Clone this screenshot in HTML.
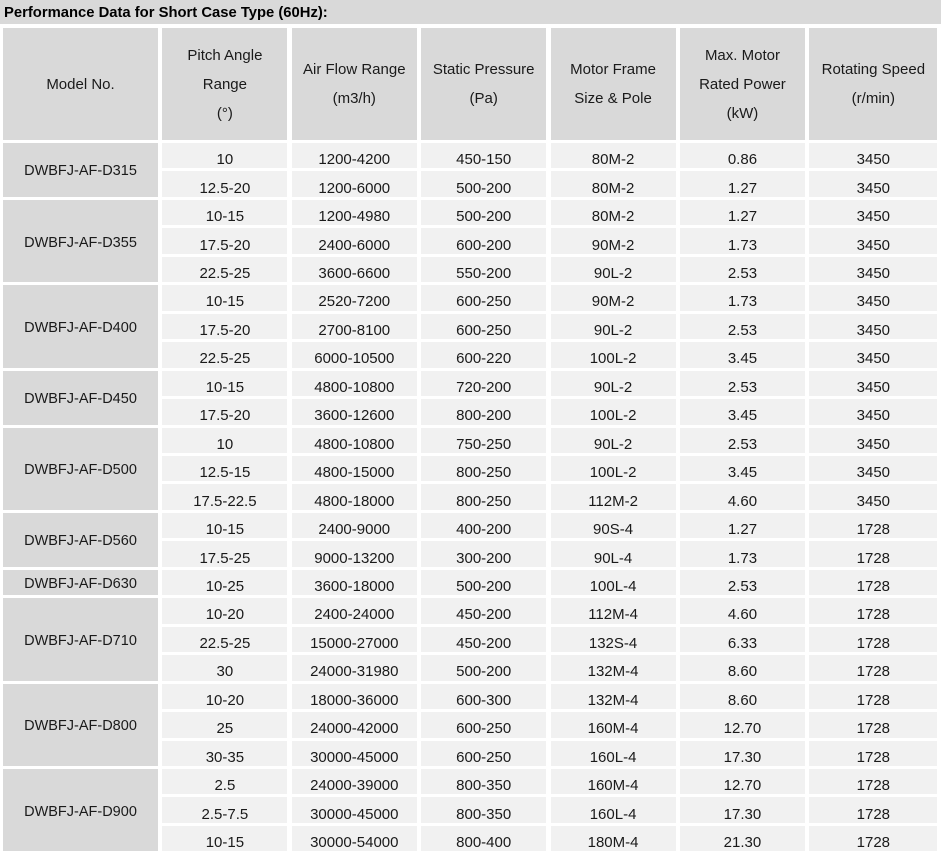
<!DOCTYPE html>
<html><head><meta charset="utf-8">
<style>
body{margin:0;background:#fff;width:941px;height:850px;overflow:hidden;font-family:"Liberation Sans",sans-serif;color:#1a1a1a;}
.title{position:absolute;left:0;top:0;width:941px;height:24px;background:#d9d9d9;font-weight:bold;font-size:14.8px;line-height:26px;padding-left:4px;box-sizing:border-box;color:#000;}
.g{position:absolute;left:3px;top:28px;display:grid;grid-template-columns:155px 125px 125px 125px 125px 125px 128px;column-gap:4.4px;grid-template-rows:112px repeat(25,25.46px);row-gap:3px;font-size:15px;}
.g div{display:flex;align-items:center;justify-content:center;text-align:center;background:#f1f1f1;padding-top:8px;box-sizing:border-box;}
.g .h{background:#d9d9d9;line-height:29px;padding-top:0;}
.g .m{background:#d9d9d9;font-size:14.5px;padding-top:3px;}
</style></head><body>
<div class="title">Performance Data for Short Case Type (60Hz):</div>
<div class="g">
<div class="h">Model No.</div>
<div class="h">Pitch Angle<br>Range<br>(°)</div>
<div class="h">Air Flow Range<br>(m3/h)</div>
<div class="h">Static Pressure<br>(Pa)</div>
<div class="h">Motor Frame<br>Size &amp; Pole</div>
<div class="h">Max. Motor<br>Rated Power<br>(kW)</div>
<div class="h">Rotating Speed<br>(r/min)</div>

<div class="m" style="grid-row:span 2">DWBFJ-AF-D315</div>
<div>10</div><div>1200-4200</div><div>450-150</div><div>80M-2</div><div>0.86</div><div>3450</div>
<div>12.5-20</div><div>1200-6000</div><div>500-200</div><div>80M-2</div><div>1.27</div><div>3450</div>

<div class="m" style="grid-row:span 3">DWBFJ-AF-D355</div>
<div>10-15</div><div>1200-4980</div><div>500-200</div><div>80M-2</div><div>1.27</div><div>3450</div>
<div>17.5-20</div><div>2400-6000</div><div>600-200</div><div>90M-2</div><div>1.73</div><div>3450</div>
<div>22.5-25</div><div>3600-6600</div><div>550-200</div><div>90L-2</div><div>2.53</div><div>3450</div>

<div class="m" style="grid-row:span 3">DWBFJ-AF-D400</div>
<div>10-15</div><div>2520-7200</div><div>600-250</div><div>90M-2</div><div>1.73</div><div>3450</div>
<div>17.5-20</div><div>2700-8100</div><div>600-250</div><div>90L-2</div><div>2.53</div><div>3450</div>
<div>22.5-25</div><div>6000-10500</div><div>600-220</div><div>100L-2</div><div>3.45</div><div>3450</div>

<div class="m" style="grid-row:span 2">DWBFJ-AF-D450</div>
<div>10-15</div><div>4800-10800</div><div>720-200</div><div>90L-2</div><div>2.53</div><div>3450</div>
<div>17.5-20</div><div>3600-12600</div><div>800-200</div><div>100L-2</div><div>3.45</div><div>3450</div>

<div class="m" style="grid-row:span 3">DWBFJ-AF-D500</div>
<div>10</div><div>4800-10800</div><div>750-250</div><div>90L-2</div><div>2.53</div><div>3450</div>
<div>12.5-15</div><div>4800-15000</div><div>800-250</div><div>100L-2</div><div>3.45</div><div>3450</div>
<div>17.5-22.5</div><div>4800-18000</div><div>800-250</div><div>112M-2</div><div>4.60</div><div>3450</div>

<div class="m" style="grid-row:span 2">DWBFJ-AF-D560</div>
<div>10-15</div><div>2400-9000</div><div>400-200</div><div>90S-4</div><div>1.27</div><div>1728</div>
<div>17.5-25</div><div>9000-13200</div><div>300-200</div><div>90L-4</div><div>1.73</div><div>1728</div>

<div class="m">DWBFJ-AF-D630</div>
<div>10-25</div><div>3600-18000</div><div>500-200</div><div>100L-4</div><div>2.53</div><div>1728</div>

<div class="m" style="grid-row:span 3">DWBFJ-AF-D710</div>
<div>10-20</div><div>2400-24000</div><div>450-200</div><div>112M-4</div><div>4.60</div><div>1728</div>
<div>22.5-25</div><div>15000-27000</div><div>450-200</div><div>132S-4</div><div>6.33</div><div>1728</div>
<div>30</div><div>24000-31980</div><div>500-200</div><div>132M-4</div><div>8.60</div><div>1728</div>

<div class="m" style="grid-row:span 3">DWBFJ-AF-D800</div>
<div>10-20</div><div>18000-36000</div><div>600-300</div><div>132M-4</div><div>8.60</div><div>1728</div>
<div>25</div><div>24000-42000</div><div>600-250</div><div>160M-4</div><div>12.70</div><div>1728</div>
<div>30-35</div><div>30000-45000</div><div>600-250</div><div>160L-4</div><div>17.30</div><div>1728</div>

<div class="m" style="grid-row:span 3">DWBFJ-AF-D900</div>
<div>2.5</div><div>24000-39000</div><div>800-350</div><div>160M-4</div><div>12.70</div><div>1728</div>
<div>2.5-7.5</div><div>30000-45000</div><div>800-350</div><div>160L-4</div><div>17.30</div><div>1728</div>
<div>10-15</div><div>30000-54000</div><div>800-400</div><div>180M-4</div><div>21.30</div><div>1728</div>
</div>
</body></html>
